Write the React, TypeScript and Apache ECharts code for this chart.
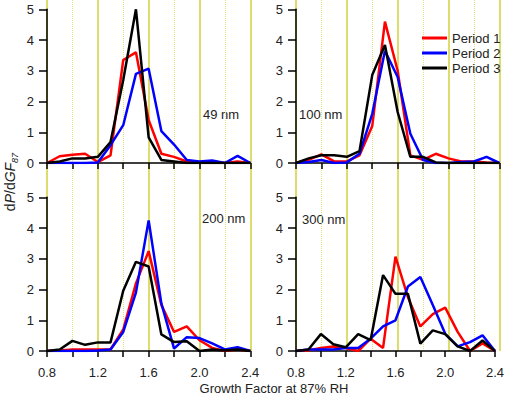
import React, { useEffect, useRef } from "react";
import * as echarts from "echarts";

const growthFactor = [0.8, 0.9, 1.0, 1.1, 1.2, 1.3, 1.4, 1.5, 1.6, 1.7, 1.8, 1.9, 2.0, 2.1, 2.2, 2.3, 2.4];
const periodNames = ["Period 1", "Period 2", "Period 3"];
const periodColors = ["#ff0000", "#0000ff", "#000000"];
const panelLabels = ["49 nm", "100 nm", "200 nm", "300 nm"];

const nm49Period1 = [0, 0.22, 0.27, 0.3, 0.03, 0.25, 3.35, 3.6, 1.4, 0.3, 0.2, 0.05, 0.02, 0.05, 0, 0.05, 0];
const nm49Period2 = [0, 0, 0, 0, 0.02, 0.58, 1.23, 2.9, 3.07, 1.04, 0.6, 0.1, 0.05, 0.08, 0, 0.23, 0];
const nm49Period3 = [0, 0.05, 0.15, 0.15, 0.2, 0.68, 2.7, 5.0, 0.83, 0.1, 0.05, 0, 0, 0, 0, 0, 0];

const nm100Period1 = [0, 0.1, 0.28, 0.05, 0.05, 0.25, 1.2, 4.6, 3.0, 0.25, 0.1, 0.3, 0.15, 0.05, 0.05, 0.02, 0];
const nm100Period2 = [0, 0.03, 0.1, 0, 0.02, 0.3, 1.6, 3.65, 2.8, 0.95, 0.1, 0, 0, 0.03, 0.05, 0.2, 0];
const nm100Period3 = [0, 0.15, 0.25, 0.25, 0.2, 0.39, 2.86, 3.84, 1.66, 0.2, 0.2, 0.02, 0, 0, 0, 0, 0];

const nm200Period1 = [0, 0.02, 0.05, 0.05, 0.05, 0.05, 0.7, 2.2, 3.25, 1.5, 0.62, 0.8, 0.35, 0.1, 0, 0.05, 0];
const nm200Period2 = [0, 0, 0, 0, 0.02, 0.05, 0.62, 1.9, 4.25, 1.55, 0.08, 0.45, 0.42, 0.25, 0.05, 0.12, 0];
const nm200Period3 = [0, 0.05, 0.33, 0.2, 0.28, 0.28, 1.96, 2.9, 2.75, 0.54, 0.29, 0.32, 0, 0.05, 0.02, 0.05, 0];

const nm300Period1 = [0, 0.02, 0.1, 0.15, 0.1, 0, 0.4, 0.1, 3.07, 1.75, 0.8, 1.2, 1.41, 0.62, 0, 0.25, 0];
const nm300Period2 = [0, 0.05, 0.05, 0.05, 0.1, 0.1, 0.4, 0.8, 1.0, 2.1, 2.41, 1.5, 0.56, 0.15, 0.29, 0.51, 0];
const nm300Period3 = [0, 0.05, 0.55, 0.22, 0.12, 0.55, 0.35, 2.47, 1.86, 1.86, 0.24, 0.67, 0.55, 0.15, 0, 0.34, 0];

const panelData = [
  [nm49Period1, nm49Period2, nm49Period3],
  [nm100Period1, nm100Period2, nm100Period3],
  [nm200Period1, nm200Period2, nm200Period3],
  [nm300Period1, nm300Period2, nm300Period3],
];

const FONT = "Liberation Sans, Arial, sans-serif";
const TXT = "#222";

export default function App() {
  const ref = useRef<HTMLDivElement>(null);
  useEffect(() => {
    if (!ref.current) return;
    const chart = echarts.init(ref.current, undefined, { renderer: "svg" });
    const colLeft = [47, 296];
    const rowTop = [9.3, 197.3];
    const W = 203.3;
    const H = 153.7;
    const grids: any[] = [];
    const xAxes: any[] = [];
    const yAxes: any[] = [];
    for (let i = 0; i < 4; i++) {
      const c = i % 2;
      const r = Math.floor(i / 2);
      grids.push({ left: colLeft[c], top: rowTop[r], width: W, height: H, containLabel: false });
      xAxes.push({
        gridIndex: i,
        type: "value",
        min: 0.8,
        max: 2.4,
        interval: 0.4,
        axisLine: { show: true, onZero: false, lineStyle: { color: "#000", width: 1.5 } },
        axisTick: { show: true, inside: false, length: 6, lineStyle: { color: "#000", width: 1.5 } },
        minorTick: { show: true, splitNumber: 2, length: 6, lineStyle: { color: "#000", width: 1.5 } },
        splitLine: { show: false },
        axisLabel: {
          show: r === 1,
          margin: 15,
          fontSize: 13,
          fontFamily: FONT,
          color: TXT,
          formatter: (v: number) => v.toFixed(1),
        },
      });
      yAxes.push({
        gridIndex: i,
        type: "value",
        min: 0,
        max: 5,
        interval: 1,
        axisLine: { show: true, onZero: false, lineStyle: { color: "#000", width: 1.5 } },
        axisTick: { show: true, inside: false, length: 8, lineStyle: { color: "#000", width: 1.5 } },
        splitLine: { show: false },
        axisLabel: { margin: 13, fontSize: 13, fontFamily: FONT, color: TXT },
      });
    }
    // background grids for the full-height vertical grid lines
    for (let c = 0; c < 2; c++) {
      grids.push({ left: colLeft[c], top: 0, width: W, height: 351 });
      xAxes.push({
        gridIndex: 4 + c,
        type: "value",
        min: 0.8,
        max: 2.4,
        interval: 0.4,
        axisLine: { show: false },
        axisTick: { show: false },
        axisLabel: { show: false },
        minorTick: { show: false, splitNumber: 2 },
        splitLine: { show: true, lineStyle: { color: "#d2d23c", width: 1.5 } },
        minorSplitLine: { show: true, lineStyle: { color: "#e2e27a", width: 1, type: "dotted" } },
      });
      yAxes.push({ gridIndex: 4 + c, type: "value", min: 0, max: 1, show: false, splitLine: { show: false } });
    }
    const series: any[] = [];
    panelData.forEach((periods, i) => {
      periods.forEach((vals, p) => {
        series.push({
          type: "line",
          name: periodNames[p],
          xAxisIndex: i,
          yAxisIndex: i,
          data: growthFactor.map((x, k) => [x, vals[k]]),
          symbol: "none",
          showSymbol: false,
          lineStyle: { color: periodColors[p], width: 2.5 },
          itemStyle: { color: periodColors[p] },
          z: 2 + p,
        });
      });
    });
    const labelPos = [
      [203, 114],
      [299, 114],
      [202, 218],
      [302, 219],
    ];
    const graphic: any[] = panelLabels.map((t, i) => ({
      type: "text",
      x: labelPos[i][0],
      y: labelPos[i][1],
      style: { text: t, fontSize: 13, fontFamily: FONT, fill: TXT, align: "left", verticalAlign: "middle" },
    }));
    graphic.push({
      type: "text",
      x: 274,
      y: 388,
      style: {
        text: "Growth Factor at 87% RH",
        fontSize: 13,
        fontFamily: FONT,
        fill: TXT,
        align: "center",
        verticalAlign: "middle",
      },
    });
    graphic.push({
      type: "text",
      x: 10,
      y: 182,
      rotation: Math.PI / 2,
      style: {
        text: "{a|d}{i|P}{a|/d}{i|GF}{s|87}",
        align: "center",
        verticalAlign: "middle",
        fill: TXT,
        rich: {
          a: { fontSize: 14, fontFamily: FONT, fill: TXT, lineHeight: 18, verticalAlign: "middle" },
          i: { fontSize: 14, fontFamily: FONT, fontStyle: "italic", fill: TXT, lineHeight: 18, verticalAlign: "middle" },
          s: { fontSize: 9, fontFamily: FONT, fontStyle: "italic", fill: TXT, lineHeight: 10, verticalAlign: "bottom" },
        },
      },
    });
    chart.setOption({
      animation: false,
      backgroundColor: "#fff",
      grid: grids,
      xAxis: xAxes,
      yAxis: yAxes,
      series,
      legend: {
        data: periodNames,
        orient: "vertical",
        left: 417,
        top: 25.5,
        icon: "rect",
        itemWidth: 25,
        itemHeight: 3,
        itemGap: 0,
        textStyle: { fontSize: 13, fontFamily: FONT, color: TXT, lineHeight: 15 },
      },
      graphic,
    });
    return () => chart.dispose();
  }, []);
  return <div ref={ref} style={{ position: "fixed", left: 0, top: 0, width: 507, height: 397 }} />;
}
